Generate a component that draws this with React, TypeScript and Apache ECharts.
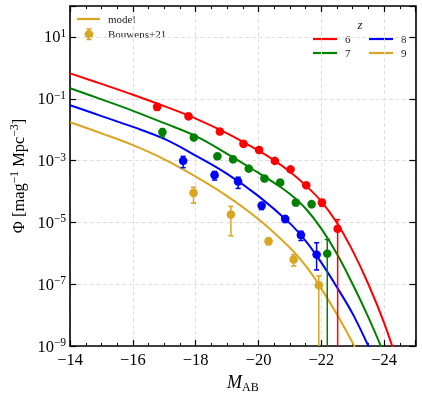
import React, { useEffect, useRef } from 'react';
import * as echarts from 'echarts';

const FONT = '"Liberation Serif", "DejaVu Serif", serif';

// ---- data ----
const redshifts = ['6', '7', '8', '9'];
const colors = ['#ff0000', '#008000', '#0000ff', '#daa520'];

// model curves: [M_AB, Phi]
const modelZ6 = [
  [-14, 0.661], [-15, 0.302], [-16, 0.135], [-17, 0.0575], [-18, 0.0229], [-19, 7.59e-3],
  [-20, 2.09e-3], [-20.5, 1.02e-3], [-21, 4.37e-4], [-21.5, 1.58e-4], [-22, 4.79e-5],
  [-22.5, 9.55e-6], [-23, 1.2e-6], [-23.5, 1.0e-7], [-24, 5.62e-9], [-24.4, 3.55e-10],
];
const modelZ7 = [
  [-14, 0.219], [-15, 0.0955], [-16, 0.0407], [-17, 0.0162], [-18, 6.17e-3], [-19, 1.66e-3],
  [-20, 3.98e-4], [-20.5, 1.91e-4], [-21, 8.32e-5], [-21.5, 2.82e-5], [-22, 6.31e-6],
  [-22.5, 9.55e-7], [-23, 1.0e-7], [-23.5, 8.51e-9], [-24, 5.62e-10],
];
const modelZ8 = [
  [-14, 0.0617], [-15, 0.0275], [-16, 0.0123], [-17, 5.01e-3], [-18, 1.45e-3], [-19, 3.72e-4],
  [-20, 7.08e-5], [-21, 9.33e-6], [-21.5, 2.51e-6], [-22, 5.01e-7], [-22.5, 7.94e-8],
  [-23, 1.1e-8], [-23.5, 1.0e-9], [-23.7, 3.55e-10],
];
const modelZ9 = [
  [-14, 0.0174], [-15, 7.59e-3], [-16, 3.16e-3], [-17, 1.1e-3], [-18, 3.02e-4], [-19, 7.08e-5],
  [-20, 1.26e-5], [-21, 1.51e-6], [-21.5, 3.98e-7], [-22, 7.24e-8], [-22.5, 1.05e-8],
  [-23, 1.26e-9], [-23.2, 4.47e-10],
];

// Bouwens+21 points: [M_AB, Phi, lower, upper]  (lower 0 = bar reaches the axis floor)
const obsZ6 = [
  [-16.77, 0.055, 0.042, 0.068], [-17.77, 0.027, 0.024, 0.03], [-18.77, 8.7e-3, 7.8e-3, 9.6e-3],
  [-19.52, 3.5e-3, 3.2e-3, 3.9e-3], [-20.02, 2.2e-3, 2.0e-3, 2.5e-3], [-20.52, 9.8e-4, 8.9e-4, 1.08e-3],
  [-21.02, 5.2e-4, 4.6e-4, 5.9e-4], [-21.52, 1.6e-4, 1.4e-4, 1.85e-4], [-22.02, 4.4e-5, 3.3e-5, 5.5e-5],
  [-22.52, 6.2e-6, 0, 1.23e-5],
];
const obsZ7 = [
  [-16.94, 8.3e-3, 5.8e-3, 1.08e-2], [-17.94, 5.6e-3, 4.9e-3, 6.3e-3], [-18.69, 1.38e-3, 1.2e-3, 1.55e-3],
  [-19.19, 1.1e-3, 9.5e-4, 1.25e-3], [-19.69, 5.5e-4, 4.9e-4, 6.1e-4], [-20.19, 2.63e-4, 2.3e-4, 2.95e-4],
  [-20.69, 1.95e-4, 1.7e-4, 2.2e-4], [-21.19, 4.4e-5, 3.5e-5, 5.3e-5], [-21.69, 3.9e-5, 3.1e-5, 4.7e-5],
  [-22.19, 9.8e-7, 0, 2.8e-6],
];
const obsZ8 = [
  [-17.6, 9.8e-4, 5.9e-4, 1.37e-3], [-18.6, 3.4e-4, 2.35e-4, 4.45e-4], [-19.35, 2.1e-4, 1.26e-4, 2.9e-4],
  [-20.1, 3.5e-5, 2.6e-5, 4.4e-5], [-20.85, 1.3e-5, 1.0e-5, 1.6e-5], [-21.35, 3.9e-6, 2.6e-6, 5.2e-6],
  [-21.85, 9.1e-7, 2.9e-7, 2.2e-6],
];
const obsZ9 = [
  [-17.93, 9.1e-5, 4.2e-5, 1.38e-4], [-19.12, 1.8e-5, 3.7e-6, 3.3e-5], [-20.32, 2.45e-6, 1.9e-6, 3.1e-6],
  [-21.12, 6.3e-7, 3.9e-7, 9.1e-7], [-21.92, 9.3e-8, 0, 1.86e-7],
];

const models = [modelZ6, modelZ7, modelZ8, modelZ9];
const observations = [obsZ6, obsZ7, obsZ8, obsZ9];

const xTickValues = [-14, -16, -18, -20, -22, -24];
const yTickExponents = [1, -1, -3, -5, -7, -9];
const legendLabels = ['model', 'Bouwens+21'];

const minus = (n: number) => (n < 0 ? '\u2212' + Math.abs(n) : String(n));

export default function App() {
  const ref = useRef<HTMLDivElement>(null);
  useEffect(() => {
    if (!ref.current) return;
    const chart = echarts.init(ref.current, null, { renderer: 'svg' });

    const GRID = { left: 68, top: 6, width: 347.5, height: 343.5 };
    const spine = { show: true, onZero: false, lineStyle: { color: '#000', width: 1.6 } };
    const majorTick = { show: true, inside: true, length: 6, lineStyle: { color: '#000', width: 1.2 } };
    const minorTick = { show: true, inside: true, length: 3.2, splitNumber: 4, lineStyle: { color: '#000', width: 1 } };
    const gridLine = { show: true, lineStyle: { color: '#dedede', width: 1, type: [4, 2.5] } };

    const xCommon = { type: 'value', inverse: true, min: -25, max: -14, splitNumber: 5, gridIndex: 0 };
    const yCommon = { type: 'log', logBase: 10, min: 1e-9, max: 100, interval: 2, gridIndex: 0 };

    const xLabelFmt = (v: number) => {
      const r = Math.round(v);
      return Math.abs(v - r) < 1e-6 && xTickValues.includes(r) ? minus(r) : '';
    };
    const yLabelFmt = (v: number) => {
      const e = Math.round(Math.log10(v));
      return yTickExponents.includes(e) && Math.abs(Math.log10(v) - e) < 1e-6
        ? `{b|10}{s|${minus(e)}}` : '';
    };

    const series: any[] = [];
    models.forEach((m, i) => {
      series.push({
        type: 'line', name: redshifts[i], data: m, smooth: 0.4, showSymbol: false,
        lineStyle: { color: colors[i], width: 2 }, itemStyle: { color: colors[i] }, z: 3, clip: true,
      });
    });
    observations.forEach((obs, i) => {
      const color = colors[i];
      series.push({
        type: 'custom', name: 'obs' + redshifts[i], data: obs, z: 4, clip: true,
        dimensions: ['M', 'phi', 'lo', 'hi'], encode: { x: 0, y: 1 },
        renderItem: (params: any, api: any) => {
          const x = api.value(0), y = api.value(1), lo = api.value(2), hi = api.value(3);
          const p = api.coord([x, y]);
          const yHi = api.coord([x, hi])[1];
          const cs = params.coordSys;
          const yLo = lo > 0 ? api.coord([x, lo])[1] : cs.y + cs.height;
          const st = { stroke: color, lineWidth: 1.5 };
          const children: any[] = [
            { type: 'line', shape: { x1: p[0], y1: yHi, x2: p[0], y2: yLo }, style: st },
            { type: 'line', shape: { x1: p[0] - 2.6, y1: yHi, x2: p[0] + 2.6, y2: yHi }, style: st },
          ];
          if (lo > 0) children.push({ type: 'line', shape: { x1: p[0] - 2.6, y1: yLo, x2: p[0] + 2.6, y2: yLo }, style: st });
          children.push({ type: 'circle', shape: { cx: p[0], cy: p[1], r: 4.3 }, style: { fill: color } });
          return { type: 'group', children };
        },
      });
    });

    const gold = colors[3];
    const legendStyle = { fontFamily: FONT, fontSize: 11, fill: '#222', verticalAlign: 'middle' };
    const zLegend: any[] = [];
    const pos = [[313, 39], [313, 53], [369, 39], [369, 53]];
    redshifts.forEach((z, i) => {
      const [lx, ly] = pos[i];
      zLegend.push({ type: 'line', shape: { x1: lx, y1: ly, x2: lx + 24, y2: ly }, style: { stroke: colors[i], lineWidth: 2.2 } });
      zLegend.push({ type: 'text', x: lx + 32, y: ly, style: { ...legendStyle, text: z, align: 'left' } });
    });

    chart.setOption({
      animation: false,
      grid: { ...GRID, containLabel: false },
      xAxis: [
        {
          ...xCommon, position: 'bottom', axisLine: spine, axisTick: majorTick, minorTick,
          splitLine: gridLine,
          axisLabel: { formatter: xLabelFmt, margin: 5, color: '#000', fontFamily: FONT, fontSize: 16.5, showMinLabel: false },
          name: '{m|M}{s|AB}', nameLocation: 'middle', nameGap: 22,
          nameTextStyle: {
            color: '#000', fontFamily: FONT,
            rich: {
              m: { fontSize: 18, fontStyle: 'italic', lineHeight: 22, fontFamily: FONT },
              s: { fontSize: 12, lineHeight: 12, verticalAlign: 'bottom', fontFamily: FONT },
            },
          },
        },
        {
          ...xCommon, position: 'top', axisLine: spine, axisTick: majorTick, minorTick,
          splitLine: { show: false }, axisLabel: { show: false },
        },
      ],
      yAxis: [
        {
          ...yCommon, position: 'left', axisLine: spine, axisTick: majorTick, splitLine: gridLine,
          axisLabel: {
            formatter: yLabelFmt, margin: 4, color: '#000',
            rich: {
              b: { fontSize: 16.5, fontFamily: FONT, lineHeight: 20 },
              s: { fontSize: 11.5, fontFamily: FONT, lineHeight: 10, verticalAlign: 'top' },
            },
          },
          name: '{n|\u03a6 [mag}{s|\u22121}{n| Mpc}{s|\u22123}{n|]}', nameLocation: 'middle', nameGap: 38,
          nameTextStyle: {
            color: '#000',
            rich: {
              n: { fontSize: 16.5, fontFamily: FONT, lineHeight: 20 },
              s: { fontSize: 11.5, fontFamily: FONT, lineHeight: 10, verticalAlign: 'top' },
            },
          },
        },
        {
          ...yCommon, position: 'right', axisLine: spine, axisTick: majorTick,
          splitLine: { show: false }, axisLabel: { show: false },
        },
      ],
      graphic: [
        { type: 'line', shape: { x1: 77, y1: 19, x2: 100, y2: 19 }, style: { stroke: gold, lineWidth: 2.2 } },
        { type: 'text', x: 108, y: 19, style: { ...legendStyle, text: legendLabels[0] } },
        { type: 'line', shape: { x1: 89, y1: 29, x2: 89, y2: 39.5 }, style: { stroke: gold, lineWidth: 1.5 } },
        { type: 'line', shape: { x1: 86.4, y1: 29, x2: 91.6, y2: 29 }, style: { stroke: gold, lineWidth: 1.5 } },
        { type: 'line', shape: { x1: 86.4, y1: 39.5, x2: 91.6, y2: 39.5 }, style: { stroke: gold, lineWidth: 1.5 } },
        { type: 'circle', shape: { cx: 89, cy: 34.3, r: 4.3 }, style: { fill: gold } },
        { type: 'text', x: 108, y: 34.3, style: { ...legendStyle, text: legendLabels[1] } },
        { type: 'text', x: 360, y: 24, style: { ...legendStyle, text: 'z', fontStyle: 'italic', fontSize: 13, align: 'center' } },
        ...zLegend,
      ],
      series,
    });
    return () => chart.dispose();
  }, []);
  return <div ref={ref} style={{ position: 'fixed', left: 0, top: 0, width: 422, height: 398 }} />;
}
